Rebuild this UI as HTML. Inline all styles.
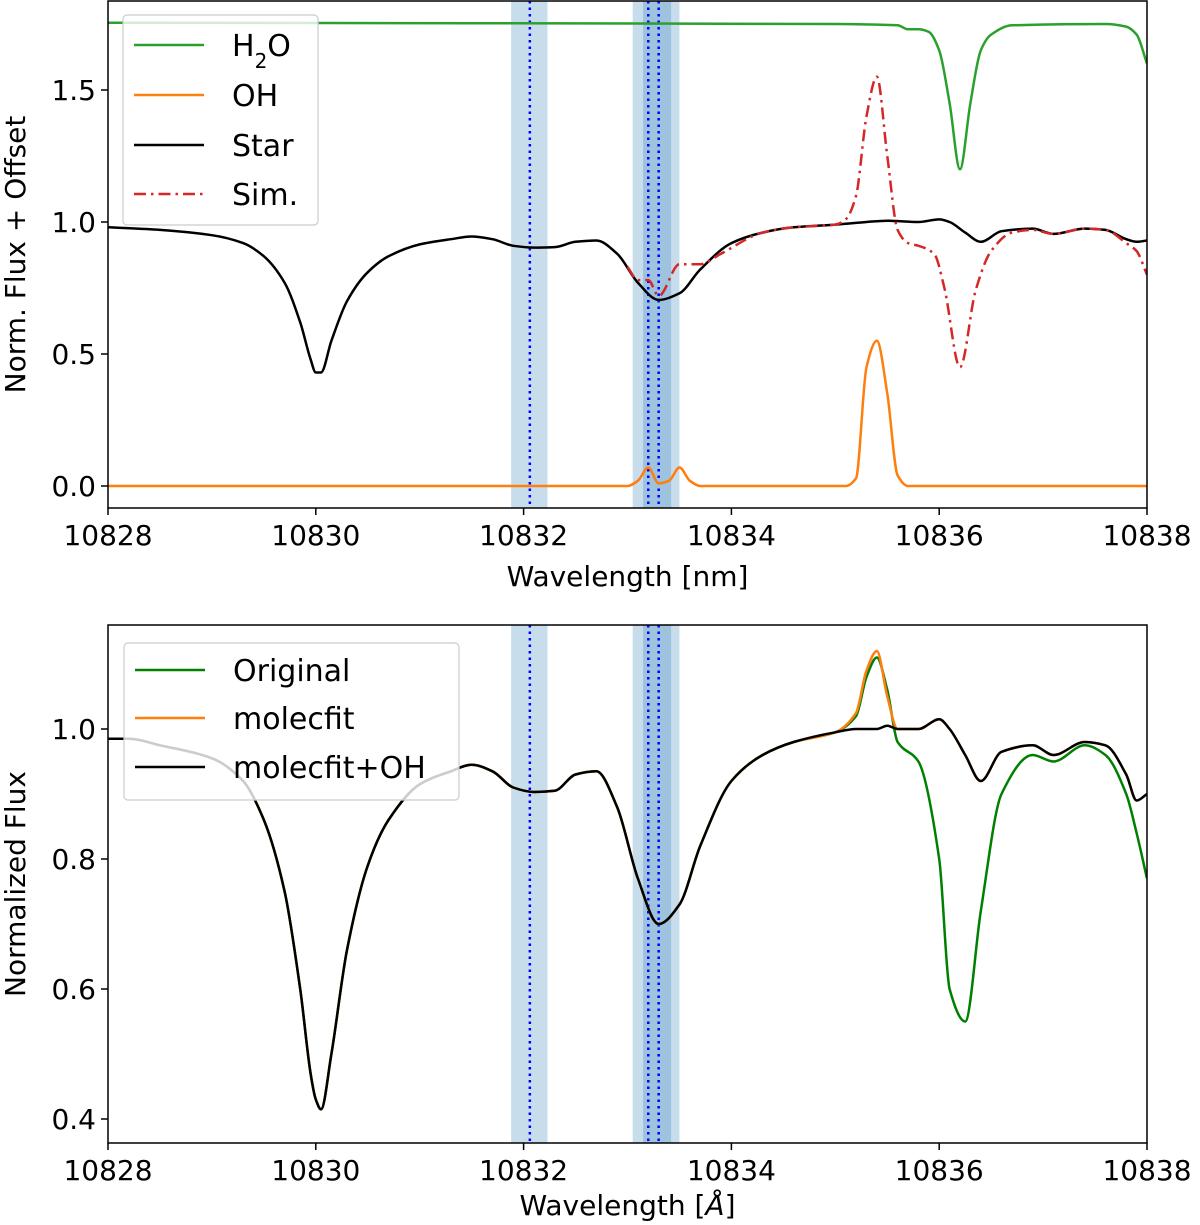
<!DOCTYPE html>
<html><head><meta charset="utf-8"><style>
body{margin:0;background:#fff}
svg{display:block;font-family:"DejaVu Sans","Liberation Sans",sans-serif}
</style></head><body>
<svg id="fig" width="1200" height="1225" viewBox="0 0 1200 1225">
<g id="top"></g>
<g id="bot"></g>
</svg>
<script>
// ----- data -----
const starX=[10828,10828.5,10829,10829.3,10829.5,10829.7,10829.85,10829.95,10830.0,10830.05,10830.15,10830.3,10830.5,10830.7,10831,10831.3,10831.5,10831.7,10831.9,10832.1,10832.3,10832.5,10832.7,10832.9,10833.1,10833.3,10833.5,10833.7,10834,10834.3,10834.6,10835,10835.3,10835.5,10835.8,10836,10836.1,10836.25,10836.4,10836.6,10836.9,10837.1,10837.4,10837.6,10837.8,10837.9,10838];
const starY=[0.98,0.97,0.95,0.92,0.87,0.77,0.62,0.48,0.43,0.43,0.55,0.70,0.81,0.87,0.915,0.935,0.945,0.935,0.91,0.903,0.905,0.925,0.93,0.88,0.77,0.705,0.73,0.82,0.92,0.96,0.98,0.99,1.0,1.005,1.0,1.01,1.0,0.96,0.925,0.965,0.975,0.955,0.975,0.97,0.935,0.925,0.93];
const h2oX=[10828,10835,10835.6,10835.7,10835.8,10835.9,10836.0,10836.1,10836.2,10836.3,10836.4,10836.5,10836.7,10837.6,10837.8,10837.9,10838];
const h2oY=[1.755,1.75,1.745,1.73,1.73,1.72,1.65,1.45,1.2,1.45,1.65,1.71,1.745,1.75,1.74,1.71,1.6];
const ohX=[10828,10833.0,10833.1,10833.2,10833.3,10833.4,10833.5,10833.6,10833.7,10835.1,10835.2,10835.3,10835.4,10835.5,10835.6,10835.7,10838];
const ohY=[0,0,0.02,0.07,0.01,0.02,0.07,0.02,0,0,0.03,0.45,0.55,0.35,0.04,0,0];
const simX=[10833.0,10833.1,10833.2,10833.3,10833.5,10833.6,10833.7,10833.9,10834.3,10834.6,10835,10835.1,10835.2,10835.3,10835.4,10835.5,10835.6,10835.7,10835.8,10835.95,10836.05,10836.2,10836.35,10836.5,10836.7,10836.9,10837.1,10837.4,10837.6,10837.8,10837.9,10838];
const simY=[0.83,0.78,0.78,0.72,0.84,0.84,0.84,0.88,0.96,0.98,0.99,1.01,1.1,1.4,1.55,1.25,0.97,0.92,0.91,0.88,0.75,0.45,0.74,0.89,0.96,0.97,0.955,0.975,0.97,0.92,0.89,0.8];
// bottom panel
const botX=[10828,10828.2,10828.5,10829,10829.3,10829.5,10829.7,10829.85,10829.95,10830.0,10830.05,10830.15,10830.3,10830.5,10830.7,10831,10831.3,10831.5,10831.7,10831.9,10832.1,10832.3,10832.5,10832.7,10832.9,10833.1,10833.3,10833.5,10833.7,10834,10834.3,10834.6,10835,10835.2,10835.3,10835.4,10835.5,10835.6,10835.8,10836,10836.1,10836.25,10836.4,10836.6,10836.9,10837.1,10837.4,10837.6,10837.8,10837.9,10838];
const corrY=[0.985,0.985,0.975,0.955,0.92,0.86,0.75,0.6,0.47,0.43,0.415,0.5,0.66,0.79,0.86,0.915,0.935,0.945,0.935,0.91,0.903,0.905,0.93,0.935,0.88,0.77,0.70,0.73,0.82,0.92,0.96,0.98,0.995,1.0,1.0,1.0,1.005,1.0,1.0,1.015,1.0,0.96,0.92,0.965,0.975,0.96,0.98,0.975,0.93,0.89,0.9];
const origY=[0.985,0.985,0.975,0.955,0.92,0.86,0.75,0.6,0.47,0.43,0.415,0.5,0.66,0.79,0.86,0.915,0.935,0.945,0.935,0.91,0.903,0.905,0.93,0.935,0.88,0.77,0.70,0.73,0.82,0.92,0.96,0.98,0.995,1.02,1.08,1.11,1.06,0.98,0.95,0.8,0.6,0.55,0.72,0.9,0.96,0.95,0.975,0.96,0.9,0.84,0.77];
const molY=[0.985,0.985,0.975,0.955,0.92,0.86,0.75,0.6,0.47,0.43,0.415,0.5,0.66,0.79,0.86,0.915,0.935,0.945,0.935,0.91,0.903,0.905,0.93,0.935,0.88,0.77,0.70,0.73,0.82,0.92,0.96,0.98,0.995,1.025,1.09,1.12,1.05,1.0,1.0,1.015,1.0,0.96,0.92,0.965,0.975,0.96,0.98,0.975,0.93,0.89,0.9];
const xTicks=[10828,10830,10832,10834,10836,10838];
const topYTicks=[0.0,0.5,1.0,1.5];
const botYTicks=[0.4,0.6,0.8,1.0];
const bands=[[10831.88,10832.23],[10833.05,10833.5],[10833.15,10833.42]];
const vlines=[10832.06,10833.2,10833.3];

// ----- scales -----
const X0=108,X1=1147;
const xs=v=>X0+(v-10828)/10*(X1-X0);
const yT=v=>486-v*264;
const yB=v=>729-(v-1)*650;
const NS='http://www.w3.org/2000/svg';
function mk(parent,tag,attrs,text){const e=document.createElementNS(NS,tag);for(const k in attrs)e.setAttribute(k,attrs[k]);if(text!==undefined)e.textContent=text;parent.appendChild(e);return e;}
function smoothPath(xa,ya,ys){
  const P=xa.map((x,i)=>[xs(x),ys(ya[i])]);
  const n=P.length;
  const sec=[];for(let i=0;i<n-1;i++)sec.push((P[i+1][1]-P[i][1])/(P[i+1][0]-P[i][0]));
  const m=[];
  for(let i=0;i<n;i++){
    if(i===0)m.push(sec[0]);else if(i===n-1)m.push(sec[n-2]);
    else if(sec[i-1]*sec[i]<=0)m.push(0);
    else{const a=sec[i-1],b=sec[i];m.push(2*a*b/(a+b));}
  }
  let d='M'+P[0][0].toFixed(1)+','+P[0][1].toFixed(1);
  for(let i=0;i<n-1;i++){
    const dx=(P[i+1][0]-P[i][0])/3;
    d+=' C'+(P[i][0]+dx).toFixed(1)+','+(P[i][1]+m[i]*dx).toFixed(1)+' '+(P[i+1][0]-dx).toFixed(1)+','+(P[i+1][1]-m[i+1]*dx).toFixed(1)+' '+P[i+1][0].toFixed(1)+','+P[i+1][1].toFixed(1);
  }
  return d;
}

function panel(g,top,bottom,ys,yTicks,ylabel,xlabel,clipId,xlOff){
  const defs=mk(g,'defs',{});const cp=mk(defs,'clipPath',{id:clipId});mk(cp,'rect',{x:X0,y:top,width:X1-X0,height:bottom-top});
  const data=mk(g,'g',{'clip-path':'url(#'+clipId+')'});
  bands.forEach((b,i)=>{const r=mk(data,'rect',{x:xs(b[0]),y:top,width:xs(b[1])-xs(b[0]),height:bottom-top,fill:'#1f77b4','fill-opacity':0.25});
    
    });
  vlines.forEach((v,i)=>{const l=mk(data,'line',{x1:xs(v),x2:xs(v),y1:top,y2:bottom,stroke:'#0000ff','stroke-width':2.5,'stroke-dasharray':'2.5,4'});
    
    });
  mk(g,'rect',{x:X0,y:top,width:X1-X0,height:bottom-top,fill:'none',stroke:'#000','stroke-width':1.5});
  xTicks.forEach(t=>{mk(g,'line',{x1:xs(t),x2:xs(t),y1:bottom,y2:bottom+7,stroke:'#000','stroke-width':1.5});
    const tx=mk(g,'text',{x:xs(t),y:bottom+37,'font-size':28,'text-anchor':'middle'},t);
    
    });
  yTicks.forEach(t=>{mk(g,'line',{x1:X0-7,x2:X0,y1:ys(t),y2:ys(t),stroke:'#000','stroke-width':1.5});
    const tx=mk(g,'text',{x:X0-12,y:ys(t)+10,'font-size':28,'text-anchor':'end'},t.toFixed(1));
    
    });
  const yl=mk(g,'text',{x:0,y:0,'font-size':28,'text-anchor':'middle',transform:'translate(25,'+((top+bottom)/2)+') rotate(-90)'},ylabel);
  
  
  const xl=mk(g,'text',{x:(X0+X1)/2,y:bottom+xlOff,'font-size':28,'text-anchor':'middle'});
  xl.innerHTML=xlabel;
  
  
  return data;
}
function line(parent,xa,ya,ys,color,name,dash){
  const p=mk(parent,'path',{d:smoothPath(xa,ya,ys),fill:'none',stroke:color,'stroke-width':2.5,'stroke-linejoin':'round'});
  if(dash)p.setAttribute('stroke-dasharray',dash);
  
  
}
function legend(g,x,y,w,h,entries){
  const lg=mk(g,'g',{});
  
  
  mk(lg,'rect',{x:x,y:y,width:w,height:h,rx:4,fill:'#fff','fill-opacity':0.8,stroke:'#ccc','stroke-width':1.2});
  entries.forEach((e,i)=>{const cy=e[3];
    const l=mk(lg,'line',{x1:x+11,x2:x+81,y1:cy,y2:cy,stroke:e[1],'stroke-width':2.5});
    if(e[2])l.setAttribute('stroke-dasharray',e[2]);
    const t=mk(lg,'text',{x:x+109,y:cy+11,'font-size':30});t.innerHTML=e[0];
    
    });
}
const gt=document.getElementById('top');
const dt=panel(gt,1,508,yT,topYTicks,'Norm. Flux + Offset','Wavelength [nm]','cpt',78);
line(dt,h2oX,h2oY,yT,'#2ca02c','h2o-line');
line(dt,ohX,ohY,yT,'#ff7f0e','oh-line');
line(dt,starX,starY,yT,'#000','star-line');
line(dt,simX,simY,yT,'#d62728','sim-line','12,5,2.5,5');
legend(gt,123,15,195,210,[['H<tspan baseline-shift="sub" font-size="20">2</tspan>O','#2ca02c',null,45],['OH','#ff7f0e',null,95],['Star','#000',null,145],['Sim.','#d62728','12,5,2.5,5',194]]);
const gb=document.getElementById('bot');
const db=panel(gb,625,1143,yB,botYTicks,'Normalized Flux','Wavelength [<tspan font-style="italic">Å</tspan>]','cpb',72);
line(db,botX,origY,yB,'#008000','original-line');
line(db,botX,molY,yB,'#ff7f0e','molecfit-line');
line(db,botX,corrY,yB,'#000','molecfit-oh-line');
legend(gb,124,643,335,157,[['Original','#008000',null,670],['molecfit','#ff7f0e',null,718],['molecfit+OH','#000',null,767]]);
</script>
</body></html>
